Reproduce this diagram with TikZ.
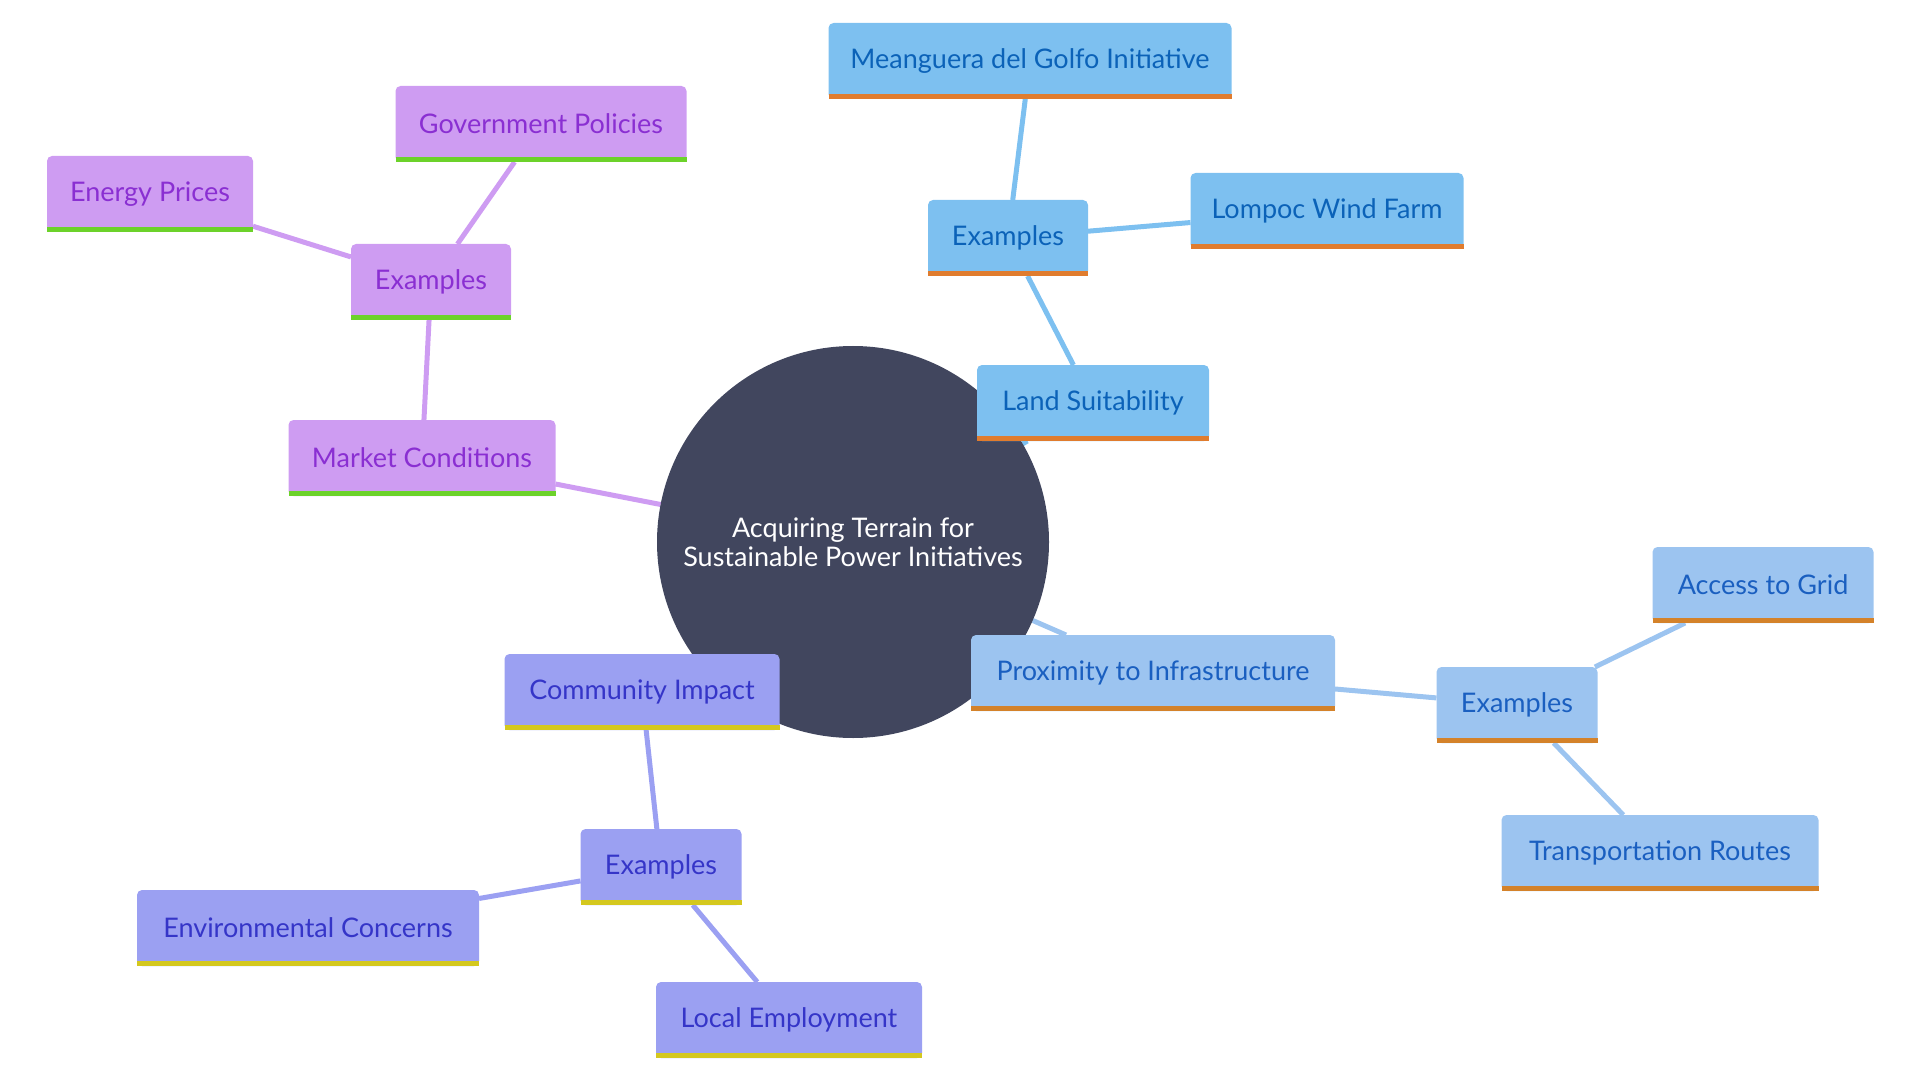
\documentclass[tikz,border=0pt]{standalone}
\usepackage{fontspec}
\setmainfont{Lato}
\usetikzlibrary{backgrounds}

\definecolor{hubfill}{HTML}{41465E}
\definecolor{landfill}{HTML}{7DC0F0}
\definecolor{landtext}{HTML}{0B62B8}
\definecolor{landstripe}{HTML}{E07C2E}
\definecolor{marketfill}{HTML}{CE9CF2}
\definecolor{markettext}{HTML}{8A2FD2}
\definecolor{marketstripe}{HTML}{6CD22A}
\definecolor{proxfill}{HTML}{9CC4F0}
\definecolor{proxtext}{HTML}{1A5FC0}
\definecolor{proxstripe}{HTML}{D4822A}
\definecolor{commfill}{HTML}{9BA0F2}
\definecolor{commtext}{HTML}{3535C8}
\definecolor{commstripe}{HTML}{D4C81E}

\begin{document}
\begin{tikzpicture}[x = 0.5pt, y = -0.5pt,
		link/.style = {line width = 2.5pt},
		box/.style = {rectangle, rounded corners = 2.5pt, minimum height = 38pt, inner xsep = 0pt,
			outer sep = 0pt, font = \fontsize{13.5}{16}\selectfont},
		hub/.style = {circle, fill = hubfill, text = white, minimum size = 196pt, align = center,
			outer sep = 0pt, font = \fontsize{13.5}{14.5}\selectfont},
		landbox/.style = {box, fill = landfill, text = landtext},
		marketbox/.style = {box, fill = marketfill, text = markettext},
		proxbox/.style = {box, fill = proxfill, text = proxtext},
		commbox/.style = {box, fill = commfill, text = commtext}]
		
		\useasboundingbox (0,0) rectangle (1920,1080);
		
		\node [hub] (hub) at (853,542) {Acquiring Terrain for\\Sustainable Power Initiatives};
		
		% land suitability
		\node [landbox, minimum width = 116pt] (land) at (1093,403) {Land Suitability};
		\node [landbox, minimum width = 80pt] (landex) at (1008,238) {Examples};
		\node [landbox, minimum width = 201.5pt] (meanguera) at (1030,61) {Meanguera del Golfo Initiative};
		\node [landbox, minimum width = 136.5pt] (lompoc) at (1327,211) {Lompoc Wind Farm};
		
		% market conditions
		\node [marketbox, minimum width = 133.5pt] (market) at (422,458) {Market Conditions};
		\node [marketbox, minimum width = 80pt] (marketex) at (431,282) {Examples};
		\node [marketbox, minimum width = 145.5pt] (policies) at (541,124) {Government Policies};
		\node [marketbox, minimum width = 103pt] (prices) at (150,194) {Energy Prices};
		
		% proximity to infrastructure
		\node [proxbox, minimum width = 182pt] (prox) at (1153,673) {Proximity to Infrastructure};
		\node [proxbox, minimum width = 80.5pt] (proxex) at (1517,705) {Examples};
		\node [proxbox, minimum width = 110.5pt] (grid) at (1763,585) {Access to Grid};
		\node [proxbox, minimum width = 158.5pt] (routes) at (1660,853) {Transportation Routes};
		
		% community impact
		\node [commbox, minimum width = 137.5pt] (comm) at (642,692) {Community Impact};
		\node [commbox, minimum width = 80.5pt] (commex) at (661,867) {Examples};
		\node [commbox, minimum width = 171pt] (environ) at (308,928) {Environmental Concerns};
		\node [commbox, minimum width = 133pt] (jobs) at (789,1020) {Local Employment};
		
		\foreach \n/\c in {land/landstripe, landex/landstripe, meanguera/landstripe, lompoc/landstripe,
			market/marketstripe, marketex/marketstripe, policies/marketstripe, prices/marketstripe,
			prox/proxstripe, proxex/proxstripe, grid/proxstripe, routes/proxstripe,
			comm/commstripe, commex/commstripe, environ/commstripe, jobs/commstripe}
			\fill [\c] ([yshift = 2.5pt]\n.south west) rectangle (\n.south east);
		
		\begin{scope}[on background layer]
			\draw [link, landfill] (hub) -- (land);
			\draw [link, landfill] (land) -- (landex);
			\draw [link, landfill] (landex) -- (meanguera);
			\draw [link, landfill] (landex) -- (lompoc);
			
			\draw [link, marketfill] (hub) -- (market);
			\draw [link, marketfill] (market) -- (marketex);
			\draw [link, marketfill] (marketex) -- (policies);
			\draw [link, marketfill] (marketex) -- (prices);
			
			\draw [link, proxfill] (hub) -- (prox);
			\draw [link, proxfill] (prox) -- (proxex);
			\draw [link, proxfill] (proxex) -- (grid);
			\draw [link, proxfill] (proxex) -- (routes);
			
			\draw [link, commfill] (hub) -- (comm);
			\draw [link, commfill] (comm) -- (commex);
			\draw [link, commfill] (commex) -- (environ);
			\draw [link, commfill] (commex) -- (jobs);
		\end{scope}
		
\end{tikzpicture}
\end{document}
